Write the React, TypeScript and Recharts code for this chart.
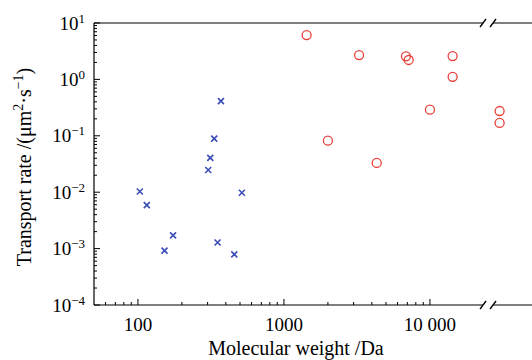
import { Scatter, ScatterChart, XAxis, YAxis } from "recharts";

// Small molecules (blue crosses)
const SMALL_MW = [103, 115, 152, 174, 303, 313, 333, 351, 370, 457, 515];
const SMALL_RATE = [0.0103, 0.0059, 0.00092, 0.00172, 0.0247, 0.0407, 0.0893, 0.00128, 0.413, 0.00079, 0.0098];

// Macromolecules (red circles)
const LARGE_MW = [1430, 2000, 3270, 4320, 6850, 7150, 10000, 14300, 14300, 30000, 30000];
const LARGE_RATE = [6.1, 0.082, 2.7, 0.033, 2.57, 2.21, 0.29, 2.59, 1.11, 0.275, 0.169];

// Axes
const X_DOMAIN = [50, 50000];
const X_MAJOR = [100, 1000, 10000];
const X_LABELS = ["100", "1000", "10 000"];
const X_MINOR = [60, 70, 80, 90, 200, 300, 400, 500, 600, 700, 800, 900, 2000, 3000, 4000, 5000, 6000, 7000, 8000, 9000];
const X_BREAK = 25000;

const Y_DOMAIN = [1e-4, 10];
const Y_MAJOR = [1e-4, 1e-3, 1e-2, 1e-1, 1, 10];
const Y_EXPONENTS = ["−4", "−3", "−2", "−1", "0", "1"];
const Y_MINOR_STEPS = [2, 3, 4, 5, 6, 7, 8, 9];

const smallData = SMALL_MW.map((mw, i) => ({ mw, rate: SMALL_RATE[i] }));
const largeData = LARGE_MW.map((mw, i) => ({ mw, rate: LARGE_RATE[i] }));
const yMinor = Y_MAJOR.slice(0, -1).flatMap((d) => Y_MINOR_STEPS.map((s) => +(d * s).toPrecision(3)));

const FONT = "'Liberation Serif', 'Times New Roman', serif";
const BLUE = "#3a4cb8";
const RED = "#e8403a";

function BreakMark({ x, y }: { x: number; y: number }) {
  return (
    <g>
      <rect x={x - 5} y={y - 2} width={10} height={4} fill="#fff" />
      <line x1={x - 8} y1={y + 4} x2={x - 2} y2={y - 4} stroke="#000" strokeWidth={1.3} />
      <line x1={x + 2} y1={y + 4} x2={x + 8} y2={y - 4} stroke="#000" strokeWidth={1.3} />
    </g>
  );
}

function XTick(props: any) {
  const { x, y, payload } = props;
  const v = payload.value;
  if (v === X_BREAK) return <BreakMark x={x} y={y} />;
  const i = X_MAJOR.indexOf(v);
  return (
    <g>
      <line x1={x} x2={x} y1={y} y2={y - (i >= 0 ? 6 : 3)} stroke="#000" />
      {i >= 0 && (
        <text x={x} y={y + 26} textAnchor="middle" fontSize={19} fontFamily={FONT} fill="#000">
          {X_LABELS[i]}
        </text>
      )}
    </g>
  );
}

function TopTick(props: any) {
  const { x, y, payload } = props;
  if (payload.value !== X_BREAK) return null;
  return <BreakMark x={x} y={y} />;
}

function YTick(props: any) {
  const { x, y, payload } = props;
  const i = Y_MAJOR.findIndex((m) => Math.abs(m - payload.value) < m * 1e-6);
  return (
    <g>
      <line x1={x} x2={x + (i >= 0 ? 6 : 3)} y1={y} y2={y} stroke="#000" />
      {i >= 0 && (
        <text x={x - 9} y={y + 6.5} textAnchor="end" fontSize={19} fontFamily={FONT} fill="#000">
          10
          <tspan dy={-7} fontSize={13}>
            {Y_EXPONENTS[i]}
          </tspan>
        </text>
      )}
    </g>
  );
}

function Cross(props: any) {
  const { cx, cy } = props;
  return (
    <path
      d={`M${cx - 3},${cy - 3}L${cx + 3},${cy + 3}M${cx - 3},${cy + 3}L${cx + 3},${cy - 3}`}
      stroke={BLUE}
      strokeWidth={1.6}
      fill="none"
    />
  );
}

function Ring(props: any) {
  const { cx, cy } = props;
  return <circle cx={cx} cy={cy} r={4.5} stroke={RED} strokeWidth={1.3} fill="none" />;
}

function XTitle(props: any) {
  const vb = props.viewBox;
  return (
    <text x={vb.x + 202} y={vb.y + 50} textAnchor="middle" fontSize={20} fontFamily={FONT} fill="#000">
      Molecular weight /Da
    </text>
  );
}

function YTitle(props: any) {
  const vb = props.viewBox;
  const cx = vb.x + 31;
  const cy = vb.y + 144;
  return (
    <text
      x={cx}
      y={cy}
      transform={`rotate(-90 ${cx} ${cy})`}
      textAnchor="middle"
      fontSize={20}
      fontFamily={FONT}
      fill="#000"
    >
      Transport rate /(μm
      <tspan dy={-8} fontSize={14}>2</tspan>
      <tspan dy={8}>·s</tspan>
      <tspan dy={-8} fontSize={14}>−1</tspan>
      <tspan dy={8}>)</tspan>
    </text>
  );
}

export default function App() {
  return (
    <div style={{ position: "absolute", left: 0, top: 0, width: 532, height: 360, background: "#fff" }}>
      <ScatterChart width={532} height={360} margin={{ top: 22, right: 0, bottom: 0, left: 0 }}>
        <XAxis
          xAxisId="bottom"
          dataKey="mw"
          type="number"
          scale="log"
          domain={X_DOMAIN}
          allowDataOverflow
          ticks={[...X_MINOR, ...X_MAJOR, X_BREAK]}
          interval={0}
          tick={(p: any) => <XTick {...p} />}
          tickLine={false}
          tickSize={0}
          tickMargin={0}
          height={55}
          axisLine={{ stroke: "#000", strokeWidth: 1.2 }}
          label={{ content: (p: any) => <XTitle {...p} /> }}
        />
        <XAxis
          xAxisId="top"
          orientation="top"
          dataKey="mw"
          type="number"
          scale="log"
          domain={X_DOMAIN}
          allowDataOverflow
          ticks={[X_BREAK]}
          interval={0}
          tick={(p: any) => <TopTick {...p} />}
          tickLine={false}
          tickSize={0}
          tickMargin={0}
          height={1}
          axisLine={{ stroke: "#000", strokeWidth: 1.2 }}
        />
        <YAxis
          dataKey="rate"
          type="number"
          scale="log"
          domain={Y_DOMAIN}
          allowDataOverflow
          ticks={[...yMinor, ...Y_MAJOR]}
          interval={0}
          tick={(p: any) => <YTick {...p} />}
          tickLine={false}
          tickSize={0}
          tickMargin={0}
          width={94}
          axisLine={{ stroke: "#000", strokeWidth: 1.2 }}
          label={{ content: (p: any) => <YTitle {...p} /> }}
        />
        <Scatter xAxisId="bottom" data={smallData} shape={(p: any) => <Cross {...p} />} isAnimationActive={false} />
        <Scatter xAxisId="bottom" data={largeData} shape={(p: any) => <Ring {...p} />} isAnimationActive={false} />
      </ScatterChart>
    </div>
  );
}
